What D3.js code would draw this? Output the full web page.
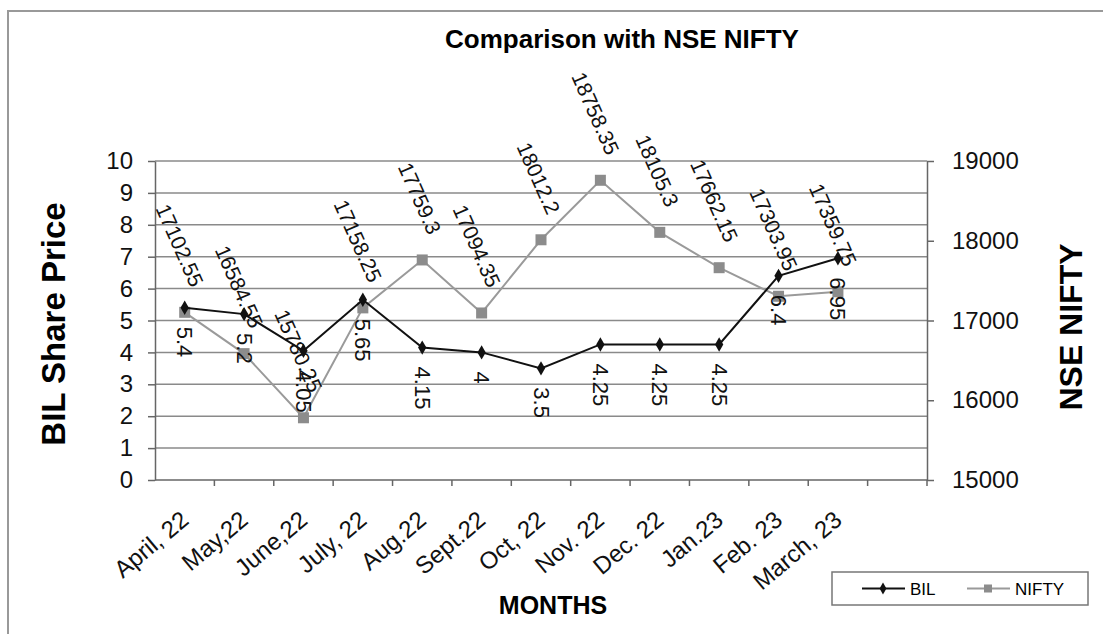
<!DOCTYPE html>
<html lang="en">
<head>
  <meta charset="utf-8">
  <title>Comparison with NSE NIFTY</title>
  <script src="https://d3js.org/d3.v7.min.js"></script>
  <style>
    body { margin: 0; background: #fff; }
    svg { display: block; font-family: 'Liberation Sans', Arial, sans-serif; }
    .grid line { stroke: #8a8a8a; stroke-width: 1.5; }
    .axis path, .axis line { stroke: #666; stroke-width: 1.5; }
    .axis text { fill: #111; }
  </style>
</head>
<body>
  <div id="chart"></div>
  <script>
    // data
    var months = ["April, 22", "May,22", "June,22", "July, 22", "Aug.22", "Sept.22",
                  "Oct, 22", "Nov. 22", "Dec. 22", "Jan.23", "Feb. 23", "March, 23"];
    var bil = [5.4, 5.2, 4.05, 5.65, 4.15, 4, 3.5, 4.25, 4.25, 4.25, 6.4, 6.95];
    var nifty = [17102.55, 16584.55, 15780.25, 17158.25, 17759.3, 17094.35,
                 18012.2, 18758.35, 18105.3, 17662.15, 17303.95, 17359.75];
    var leftTicks = d3.range(0, 11);
    var rightTicks = [15000, 16000, 17000, 18000, 19000];

    var W = 1103, H = 634;
    var margin = { top: 161, right: 176, bottom: 154, left: 155 };
    var width = W - margin.left - margin.right;
    var height = H - margin.top - margin.bottom;

    var svg = d3.select("#chart").append("svg")
      .attr("width", W)
      .attr("height", H);

    // chart frame
    svg.append("rect")
      .attr("x", 8).attr("y", 11)
      .attr("width", W + 10).attr("height", H + 10)
      .attr("fill", "#fff")
      .attr("stroke", "#999")
      .attr("stroke-width", 2);

    var g = svg.append("g")
      .attr("transform", "translate(" + margin.left + "," + margin.top + ")");

    // Excel leaves an empty slot at the end of the category axis
    var x = d3.scaleBand()
      .domain(months.concat([""]))
      .range([0, width]);
    var cx = function(i) { return x(months[i]) + x.bandwidth() / 2; };

    var yL = d3.scaleLinear().domain([0, 10]).range([height, 0]);
    var yR = d3.scaleLinear().domain([15000, 19000]).range([height, 0]);

    // gridlines
    g.append("g").attr("class", "grid")
      .selectAll("line")
      .data(leftTicks.slice(1))
      .enter().append("line")
      .attr("x1", 0).attr("x2", width)
      .attr("y1", function(d) { return yL(d); })
      .attr("y2", function(d) { return yL(d); });

    // left axis
    var leftAxis = g.append("g").attr("class", "axis")
      .call(d3.axisLeft(yL).tickValues(leftTicks).tickSize(7).tickPadding(15).tickSizeOuter(0));
    leftAxis.selectAll("text").style("font-size", "24px");

    // right axis
    var rightAxis = g.append("g").attr("class", "axis")
      .attr("transform", "translate(" + width + ",0)")
      .call(d3.axisRight(yR).tickValues(rightTicks).tickFormat(d3.format("d"))
        .tickSize(7).tickPadding(18).tickSizeOuter(0));
    rightAxis.selectAll("text").style("font-size", "24px");

    // bottom axis: ticks on category boundaries
    var bottom = g.append("g").attr("class", "axis")
      .attr("transform", "translate(0," + height + ")");
    bottom.append("line")
      .attr("x1", 0).attr("x2", width)
      .attr("y1", 0).attr("y2", 0);
    bottom.selectAll(".tk")
      .data(months.concat([""]))
      .enter().append("line")
      .attr("class", "tk")
      .attr("x1", function(d) { return x(d) + x.bandwidth(); })
      .attr("x2", function(d) { return x(d) + x.bandwidth(); })
      .attr("y1", 0).attr("y2", 6);
    bottom.selectAll(".lbl")
      .data(months)
      .enter().append("text")
      .attr("class", "lbl")
      .attr("text-anchor", "end")
      .attr("dominant-baseline", "central")
      .attr("transform", function(d, i) {
        return "translate(" + cx(i) + ",36) rotate(-40)";
      })
      .style("font-size", "24px")
      .text(function(d) { return d; });

    // NIFTY series (grey, squares)
    var lineR = d3.line()
      .x(function(d, i) { return cx(i); })
      .y(function(d) { return yR(d); });
    g.append("path")
      .datum(nifty)
      .attr("fill", "none")
      .attr("stroke", "#9a9a9a")
      .attr("stroke-width", 2)
      .attr("d", lineR);
    g.selectAll(".sq")
      .data(nifty)
      .enter().append("rect")
      .attr("class", "sq")
      .attr("x", function(d, i) { return cx(i) - 5.5; })
      .attr("y", function(d) { return yR(d) - 5.5; })
      .attr("width", 11).attr("height", 11)
      .attr("fill", "#8c8c8c");

    // BIL series (black, diamonds)
    var lineL = d3.line()
      .x(function(d, i) { return cx(i); })
      .y(function(d) { return yL(d); });
    g.append("path")
      .datum(bil)
      .attr("fill", "none")
      .attr("stroke", "#111")
      .attr("stroke-width", 2)
      .attr("d", lineL);
    g.selectAll(".dm")
      .data(bil)
      .enter().append("path")
      .attr("class", "dm")
      .attr("d", d3.symbol().type(d3.symbolDiamond).size(60))
      .attr("transform", function(d, i) { return "translate(" + cx(i) + "," + yL(d) + ")"; })
      .attr("fill", "#111");

    // NIFTY value labels
    g.selectAll(".nl")
      .data(nifty)
      .enter().append("text")
      .attr("class", "nl")
      .attr("text-anchor", "end")
      .attr("dominant-baseline", "central")
      .attr("transform", function(d, i) {
        return "translate(" + (cx(i) + 13) + "," + (yR(d) - 27) + ") rotate(66)";
      })
      .style("font-size", "21px")
      .attr("fill", "#111")
      .text(function(d) { return d; });

    // BIL value labels
    g.selectAll(".bl")
      .data(bil)
      .enter().append("text")
      .attr("class", "bl")
      .attr("text-anchor", "start")
      .attr("dominant-baseline", "central")
      .attr("transform", function(d, i) {
        return "translate(" + cx(i) + "," + (yL(d) + 19) + ") rotate(90)";
      })
      .style("font-size", "22px")
      .attr("fill", "#111")
      .text(function(d) { return d; });

    // titles
    svg.append("text")
      .attr("x", 622).attr("y", 48)
      .attr("text-anchor", "middle")
      .style("font-size", "26px").style("font-weight", "bold")
      .text("Comparison with NSE NIFTY");

    svg.append("text")
      .attr("transform", "translate(65,324) rotate(-90)")
      .attr("text-anchor", "middle")
      .style("font-size", "33px").style("font-weight", "bold")
      .text("BIL Share Price");

    svg.append("text")
      .attr("transform", "translate(1082,327) rotate(-90)")
      .attr("text-anchor", "middle")
      .style("font-size", "32px").style("font-weight", "bold")
      .text("NSE NIFTY");

    svg.append("text")
      .attr("x", 553).attr("y", 614)
      .attr("text-anchor", "middle")
      .style("font-size", "25px").style("font-weight", "bold")
      .text("MONTHS");

    // legend
    var lg = svg.append("g").attr("transform", "translate(832,572)");
    lg.append("rect")
      .attr("width", 256).attr("height", 33)
      .attr("fill", "#fff").attr("stroke", "#777").attr("stroke-width", 1.5);
    var items = [
      { name: "BIL", color: "#111", shape: "diamond", x: 30 },
      { name: "NIFTY", color: "#9a9a9a", shape: "square", x: 135 }
    ];
    items.forEach(function(it) {
      lg.append("line")
        .attr("x1", it.x).attr("x2", it.x + 43)
        .attr("y1", 16.5).attr("y2", 16.5)
        .attr("stroke", it.color).attr("stroke-width", 2);
      if (it.shape === "diamond") {
        lg.append("path")
          .attr("d", d3.symbol().type(d3.symbolDiamond).size(40))
          .attr("transform", "translate(" + (it.x + 21) + ",16.5)")
          .attr("fill", it.color);
      } else {
        lg.append("rect")
          .attr("x", it.x + 17).attr("y", 12.5)
          .attr("width", 8).attr("height", 8)
          .attr("fill", "#8c8c8c");
      }
      lg.append("text")
        .attr("x", it.x + 48).attr("y", 17)
        .attr("dominant-baseline", "central")
        .style("font-size", "17px")
        .text(it.name);
    });
  </script>
</body>
</html>
